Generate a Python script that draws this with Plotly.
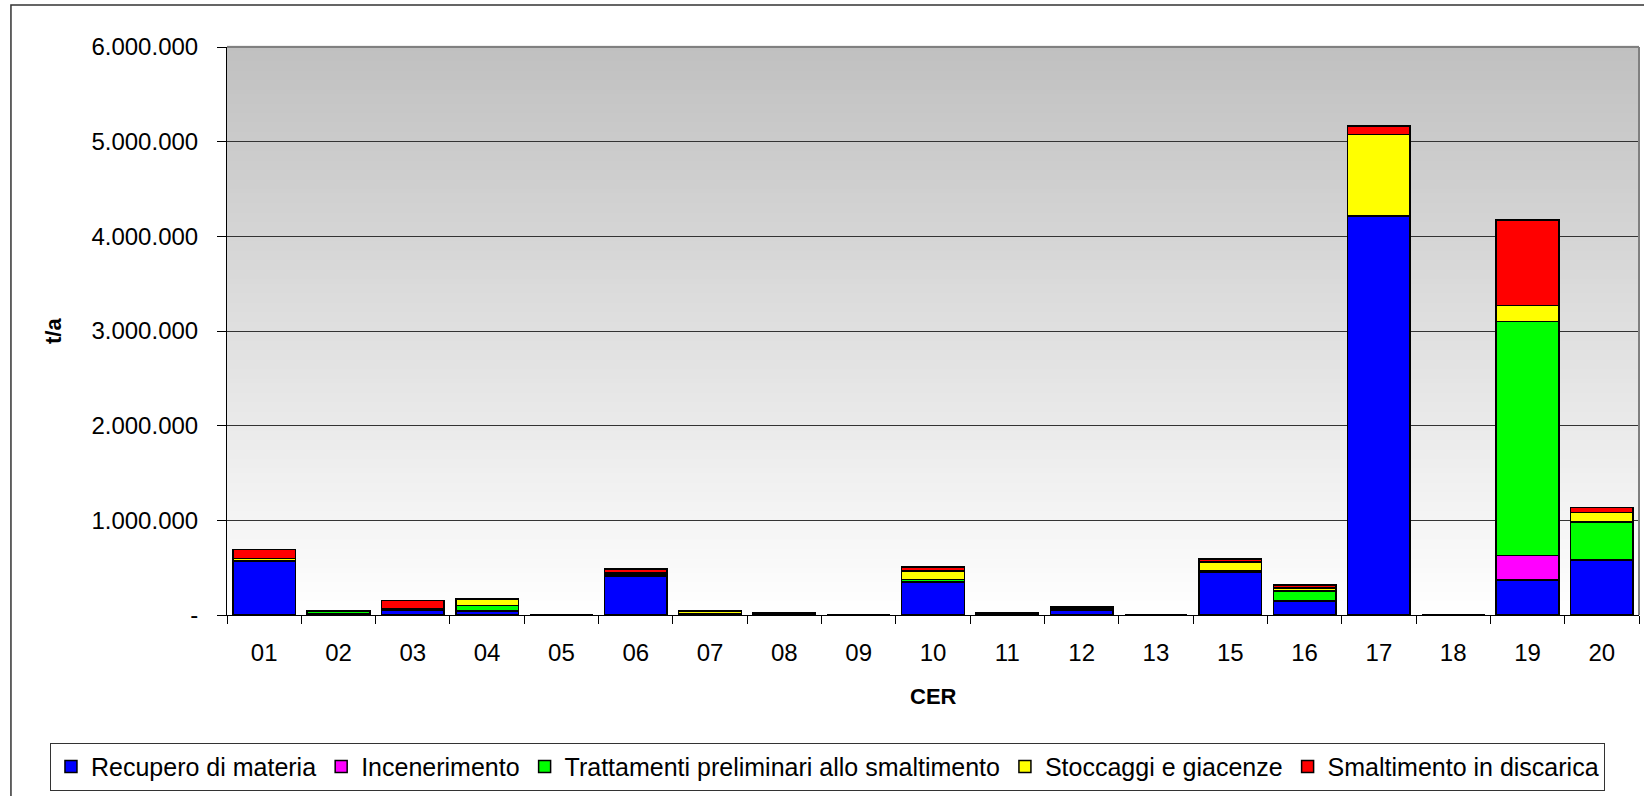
import plotly.graph_objects as go

# CER chapters (chapter 14 is not listed)
categories = ["01", "02", "03", "04", "05", "06", "07", "08", "09", "10",
              "11", "12", "13", "15", "16", "17", "18", "19", "20"]

# tonnes per year for each management route
recupero = [565000, 15000, 55000, 35000, 0, 410000, 10000, 10000, 0, 351000,
            12000, 53000, 0, 456000, 148000, 4215000, 0, 372000, 582000]
incenerimento = [0, 0, 0, 5000, 0, 5000, 0, 0, 0, 0,
                 0, 0, 0, 0, 0, 0, 0, 254000, 0]
trattamenti = [10000, 20000, 3000, 60000, 0, 10000, 5000, 5000, 0, 25000,
               5000, 10000, 0, 8000, 105000, 0, 0, 2474000, 398000]
stoccaggi = [20000, 8000, 4000, 70000, 0, 20000, 20000, 3000, 0, 90000,
             5000, 10000, 0, 97000, 30000, 862000, 0, 170000, 103000]
discarica = [99000, 5000, 89000, 2000, 0, 39000, 12000, 2000, 0, 42000,
             3000, 15000, 0, 29000, 35000, 88000, 0, 904000, 51000]

series = [
    ("Recupero di materia", recupero, "#0000ff"),
    ("Incenerimento", incenerimento, "#ff00ff"),
    ("Trattamenti preliminari allo smaltimento", trattamenti, "#00ff00"),
    ("Stoccaggi e giacenze", stoccaggi, "#ffff00"),
    ("Smaltimento in discarica", discarica, "#ff0000"),
]

y_tickvals = [0, 1000000, 2000000, 3000000, 4000000, 5000000, 6000000]
y_ticktext = ["-", "1.000.000", "2.000.000", "3.000.000", "4.000.000",
              "5.000.000", "6.000.000"]

FONT = "Liberation Sans, Arial, sans-serif"

fig = go.Figure()
for name, vals, color in series:
    fig.add_trace(go.Bar(
        x=categories, y=vals, name=name,
        marker=dict(color=color, line=dict(color="black", width=1.5)),
    ))

# vertical grey-to-white gradient behind the plot area
shapes = []
n_steps = 120
for i in range(n_steps):
    f = (i + 0.5) / n_steps          # 0 at bottom, 1 at top
    g = round(255 - (255 - 192) * f)
    shapes.append(dict(
        type="rect", xref="x domain", yref="y domain",
        x0=0, x1=1, y0=i / n_steps, y1=(i + 1) / n_steps + 0.002,
        fillcolor=f"rgb({g},{g},{g})", line=dict(width=0), layer="below",
    ))
# plot-area border on the top and right
shapes.append(dict(type="line", xref="paper", yref="paper", x0=0, x1=1, y0=1, y1=1,
                   line=dict(color="#808080", width=2), layer="below"))
shapes.append(dict(type="line", xref="paper", yref="paper", x0=1, x1=1, y0=0, y1=1,
                   line=dict(color="#808080", width=2), layer="above"))

W, H = 1644, 796
L, R, T, B = 227, 5.3, 47, 177.5
pw, ph = W - L - R, H - T - B


def px_x(px):
    return (px - L) / pw


def px_y(py):
    return (H - B - py) / ph


# outer chart frame
shapes.append(dict(type="rect", xref="paper", yref="paper",
                   x0=px_x(11), x1=px_x(1700), y0=px_y(4.7), y1=px_y(850),
                   line=dict(color="#333333", width=1.5), layer="above"))

fig.update_layout(
    width=W, height=H,
    margin=dict(l=L, r=R, t=T, b=B),
    barmode="stack", bargap=0.157,
    paper_bgcolor="white", plot_bgcolor="white",
    font=dict(family=FONT, size=24, color="black"),
    shapes=shapes,
    showlegend=True,
    legend=dict(
        orientation="h", traceorder="normal",
        x=px_x(50), xanchor="left", y=px_y(747), yanchor="top",
        bordercolor="#333333", borderwidth=1, bgcolor="white",
        font=dict(family=FONT, size=25, color="black"),
        itemwidth=30,
    ),
    annotations=[
        dict(text="<b>t/a</b>", textangle=-90, xref="paper", yref="paper",
             x=px_x(53), y=0.5, xanchor="center", yanchor="middle",
             showarrow=False, font=dict(family=FONT, size=22, color="black")),
        dict(text="<b>CER</b>", xref="paper", yref="paper",
             x=0.5, y=px_y(700), xanchor="center", yanchor="middle",
             showarrow=False, font=dict(family=FONT, size=22, color="black")),
    ],
)

fig.update_xaxes(
    type="category", showgrid=False,
    showline=True, linecolor="black", linewidth=1,
    ticks="outside", tickson="boundaries", ticklen=8, tickcolor="black",
    tickfont=dict(family=FONT, size=24), ticklabelstandoff=16,
)
fig.update_yaxes(
    range=[0, 6000000], tickvals=y_tickvals, ticktext=y_ticktext,
    showgrid=True, gridcolor="#333333", gridwidth=1, zeroline=False,
    showline=True, linecolor="black", linewidth=1,
    ticks="outside", ticklen=9, tickcolor="black",
    tickfont=dict(family=FONT, size=24), ticklabelstandoff=14,
)

fig.write_html("out.html")
